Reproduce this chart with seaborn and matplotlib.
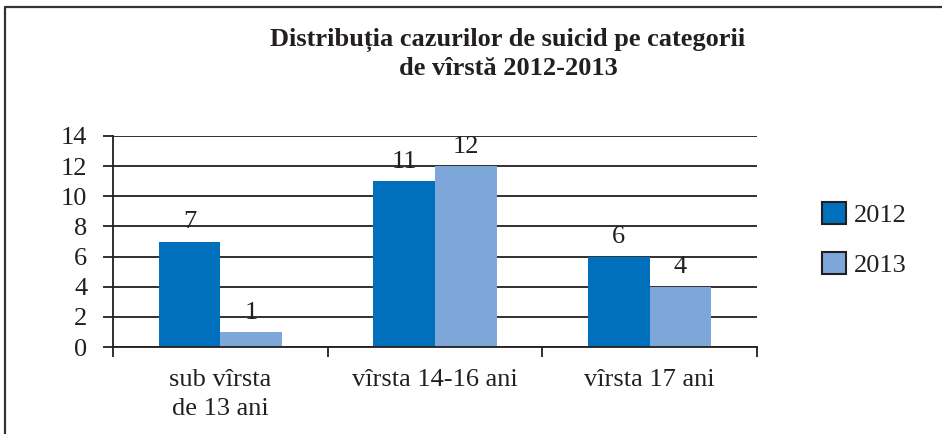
import matplotlib
matplotlib.use("Agg")
import matplotlib.pyplot as plt
from matplotlib.lines import Line2D
from matplotlib.patches import Patch
import seaborn as sns
import pandas as pd
import numpy as np

categories = ["sub vîrsta\nde 13 ani", "vîrsta 14-16 ani", "vîrsta 17 ani"]
years = ["2012", "2013"]
values_2012 = [7, 11, 6]
values_2013 = [1, 12, 4]
yticks = [0, 2, 4, 6, 8, 10, 12, 14]
title = "Distribuția cazurilor de suicid pe categorii\nde vîrstă 2012-2013"

colors = {"2012": "#0070BC", "2013": "#7CA7D8"}
ink = "#231F20"

df = pd.DataFrame({
    "categorie": categories * 2,
    "an": [years[0]] * 3 + [years[1]] * 3,
    "cazuri": values_2012 + values_2013,
})

sns.set_theme(style="white")
plt.rcParams["font.family"] = ["Liberation Serif", "DejaVu Serif"]

fig = plt.figure(figsize=(9.42, 4.34), dpi=100)
ax = fig.add_axes([113 / 942, 1 - 347 / 434, (757 - 113) / 942, (347 - 136) / 434])

sns.barplot(data=df, x="categorie", y="cazuri", hue="an", order=categories,
            hue_order=years, palette=colors, width=0.573, saturation=1,
            linewidth=0, legend=False, ax=ax)

# etichete de valori
for cont in ax.containers:
    ax.bar_label(cont, fmt="%d", padding=6, fontsize=19, color=ink)

ax.set_xlim(-0.5, 2.5)
ax.set_ylim(0, 14)
ax.set_yticks(yticks)
ax.set_yticklabels([str(t) for t in yticks])
ax.yaxis.grid(True, color=ink, linewidth=1.3)
ax.set_axisbelow(True)

# tick-uri la limitele categoriilor, etichete la centru
ax.set_xticks([-0.5, 0.5, 1.5, 2.5])
ax.set_xticklabels([])
ax.set_xticks(range(len(categories)), minor=True)
ax.set_xticklabels(categories, minor=True, fontsize=19, color=ink, linespacing=1.4)
ax.tick_params(axis="x", which="major", direction="out", length=7.5, width=1.3,
               color=ink, bottom=True)
ax.tick_params(axis="x", which="minor", length=0, pad=16)
ax.tick_params(axis="y", direction="out", length=7.5, width=1.3, color=ink,
               left=True, labelsize=19, labelcolor=ink, pad=11)

for side in ["top", "right"]:
    ax.spines[side].set_visible(False)
for side in ["left", "bottom"]:
    ax.spines[side].set_color(ink)
    ax.spines[side].set_linewidth(1.3)

ax.set_xlabel("")
ax.set_ylabel("")

handles = [Patch(facecolor=colors[y], edgecolor=ink, linewidth=1.5, label=y) for y in years]
fig.legend(handles=handles, loc="upper left", bbox_to_anchor=(809 / 942, 1 - 189 / 434),
           frameon=False, fontsize=19, handlelength=0.9, handleheight=0.9,
           handletextpad=0.3, labelspacing=0.95, borderpad=0, labelcolor=ink)

fig.text(508 / 942, 1 - 28 / 434, title, ha="center", va="top", fontsize=19,
         fontweight="bold", color=ink, linespacing=1.25)

# chenarul figurii
x0, y0 = 5 / 942, 1 - 7 / 434
fig.add_artist(Line2D([x0, x0, 1.0], [0.0, y0, y0], transform=fig.transFigure,
                      color="#333333", linewidth=1.6))

fig.savefig("out.png", dpi=100)
